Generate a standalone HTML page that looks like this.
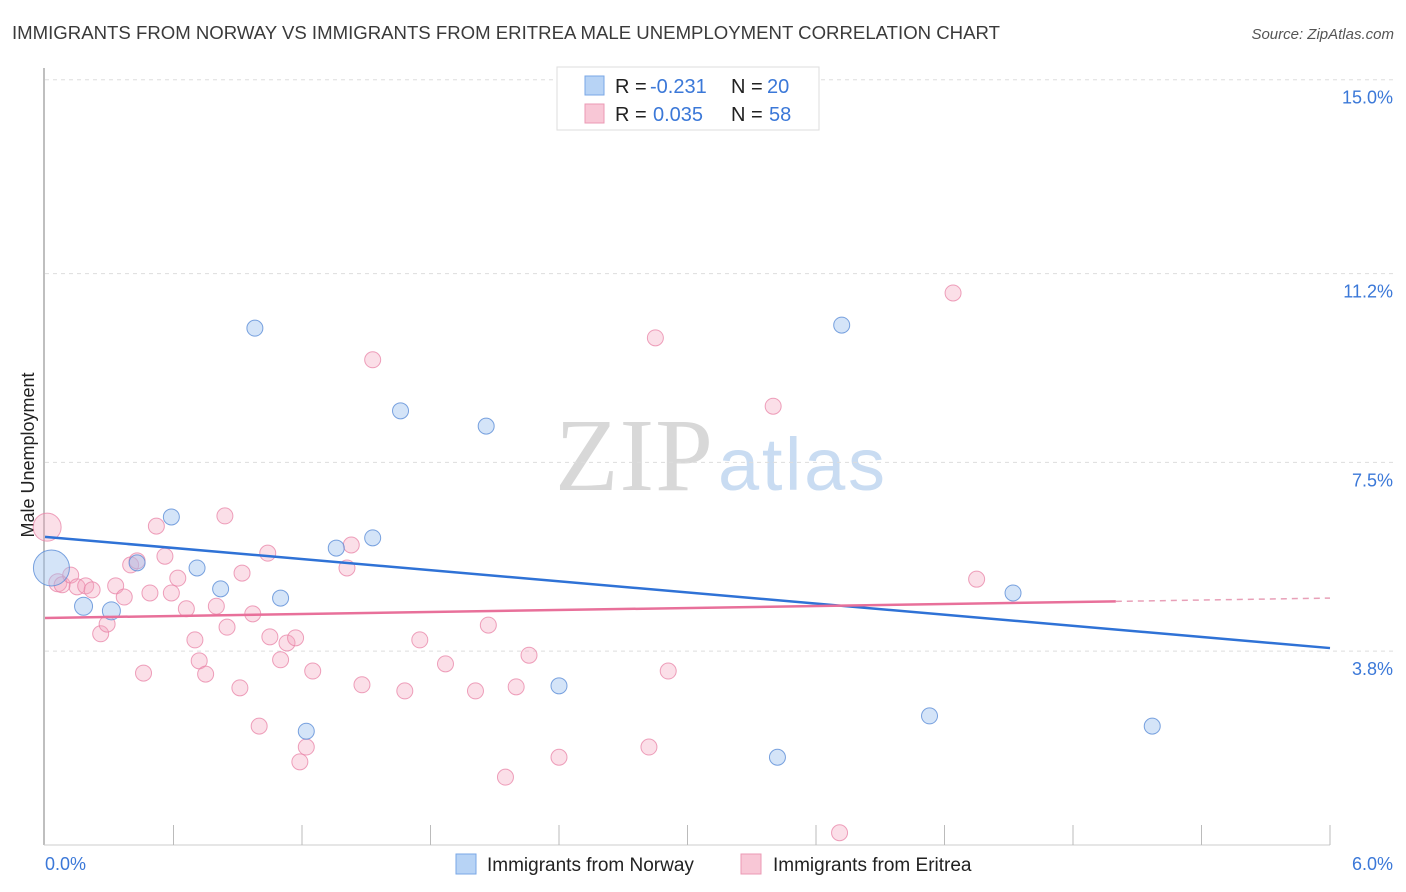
<!DOCTYPE html>
<html><head><meta charset="utf-8"><style>
body{margin:0;background:#fff;font-family:"Liberation Sans",sans-serif;}
#wrap{position:relative;width:1406px;height:892px;overflow:hidden}
</style></head><body>
<div id="wrap">
<svg id="svg" width="1406" height="892" xmlns="http://www.w3.org/2000/svg">
<text x="12" y="39" font-size="18.6" fill="#3a3a3a">IMMIGRANTS FROM NORWAY VS IMMIGRANTS FROM ERITREA MALE UNEMPLOYMENT CORRELATION CHART</text>
<text x="1394" y="39" font-size="15" font-style="italic" fill="#555" text-anchor="end">Source: ZipAtlas.com</text>
<text x="713" y="490" font-size="104" font-family="Liberation Serif,serif" fill="#d8d8d8" text-anchor="end" textLength="158">ZIP</text>
<text x="718" y="490" font-size="74" fill="#c9dcf2" textLength="167">atlas</text>
<g id="grid"></g>
<line x1="44" y1="68" x2="44" y2="845" stroke="#aaa" stroke-width="1.5"/>
<line x1="44" y1="845" x2="1330" y2="845" stroke="#ccc" stroke-width="1"/>
<g id="xticks"></g>
<text transform="translate(34,455) rotate(-90)" font-size="18" fill="#222" text-anchor="middle">Male Unemployment</text>
<text x="45" y="870" font-size="18" fill="#3b78d8">0.0%</text>
<text x="1393" y="870" font-size="18" fill="#3b78d8" text-anchor="end">6.0%</text>
<g id="pts"></g>
<g id="lines"></g>
<g>
<rect x="557" y="67" width="262" height="63" fill="#fff" stroke="#ddd"/>
<rect x="585" y="76" width="19" height="19" fill="#b7d3f5" stroke="#7aa7e6"/>
<rect x="585" y="104" width="19" height="19" fill="#f8c7d6" stroke="#eb9ab4"/>
<text x="615" y="93" font-size="20" fill="#222">R =</text>
<text x="650" y="93" font-size="20" fill="#3b78d8">-0.231</text>
<text x="731" y="93" font-size="20" fill="#222">N =</text>
<text x="767" y="93" font-size="20" fill="#3b78d8">20</text>
<text x="615" y="121" font-size="20" fill="#222">R =</text>
<text x="653" y="121" font-size="20" fill="#3b78d8">0.035</text>
<text x="731" y="121" font-size="20" fill="#222">N =</text>
<text x="769" y="121" font-size="20" fill="#3b78d8">58</text>
</g>
<g>
<rect x="456" y="854" width="20" height="20" fill="#b7d3f5" stroke="#7aa7e6"/>
<text x="487" y="871" font-size="19" fill="#222">Immigrants from Norway</text>
<rect x="741" y="854" width="20" height="20" fill="#f8c7d6" stroke="#eb9ab4"/>
<text x="773" y="871" font-size="19" fill="#222">Immigrants from Eritrea</text>
</g>
</svg>
</div>
<script>
const yTicks=[3.8,7.5,11.2,15.0];
const yTickLabels=["3.8%","7.5%","11.2%","15.0%"];
const xTickCount=10;
const norwayX=[0.03,0.18,0.31,0.43,0.59,0.71,0.82,0.98,1.10,1.22,1.36,1.53,1.66,2.06,2.40,3.42,3.72,4.13,4.52,5.17];
const norwayY=[5.43,4.68,4.59,5.53,6.43,5.43,5.02,10.13,4.84,2.23,5.82,6.02,8.51,8.21,3.12,1.72,10.19,2.53,4.94,2.33];
const norwayR=[18,9,9,8,8,8,8,8,8,8,8,8,8,8,8,8,8,8,8,8];
const eritreaX=[0.01,0.06,0.08,0.12,0.15,0.19,0.22,0.26,0.29,0.33,0.37,0.40,0.43,0.46,0.49,0.52,0.56,0.59,0.62,0.66,0.70,0.72,0.75,0.80,0.84,0.85,0.91,0.92,0.97,1.00,1.04,1.05,1.10,1.13,1.17,1.19,1.22,1.25,1.41,1.43,1.48,1.53,1.68,1.75,1.87,2.01,2.07,2.15,2.20,2.26,2.40,2.82,2.85,2.91,3.40,3.71,4.24,4.35];
const eritreaY=[6.23,5.14,5.10,5.29,5.06,5.08,5.00,4.14,4.33,5.08,4.86,5.49,5.57,3.37,4.94,6.25,5.66,4.94,5.23,4.63,4.02,3.61,3.35,4.68,6.45,4.27,3.08,5.33,4.53,2.33,5.72,4.08,3.63,3.96,4.06,1.63,1.92,3.41,5.43,5.88,3.14,9.51,3.02,4.02,3.55,3.02,4.31,1.33,3.10,3.72,1.72,1.92,9.94,3.41,8.60,0.24,10.82,5.21];
const eritreaR=[14,9,8,8,8,8,8,8,8,8,8,8,8,8,8,8,8,8,8,8,8,8,8,8,8,8,8,8,8,8,8,8,8,8,8,8,8,8,8,8,8,8,8,8,8,8,8,8,8,8,8,8,8,8,8,8,8,8];
const blueLine=[6.04,3.86];
const pinkLine=[4.45,4.84];
const pinkSolidEnd=5.0;

const NS="http://www.w3.org/2000/svg";
const X=v=>45+v*(1285/6);
const Y=v=>845-v*51.02;
function mk(t,a,p){const e=document.createElementNS(NS,t);for(const k in a)e.setAttribute(k,a[k]);p.appendChild(e);return e;}
const grid=document.getElementById('grid');
yTicks.forEach((t,i)=>{
  const l=mk('line',{x1:45,x2:1394,y1:Y(t),y2:Y(t),stroke:'#ddd','stroke-dasharray':'4,4'},grid);
  
  
  const tx=mk('text',{x:1393,y:Y(t)+24,'font-size':18,fill:'#3b78d8','text-anchor':'end'},grid);
  tx.textContent=yTickLabels[i];
  
  
});
const xt=document.getElementById('xticks');
for(let i=1;i<=xTickCount;i++){
  const l=mk('line',{x1:X(i*0.6),x2:X(i*0.6),y1:825,y2:845,stroke:'#bbb'},xt);
  
  
}
const pts=document.getElementById('pts');
eritreaX.forEach((x,i)=>{
  const c=mk('circle',{cx:X(x),cy:Y(eritreaY[i]),r:eritreaR[i],fill:'rgba(244,163,189,0.35)',stroke:'rgba(232,130,165,0.75)','stroke-width':1},pts);
  
  
});
norwayX.forEach((x,i)=>{
  const c=mk('circle',{cx:X(x),cy:Y(norwayY[i]),r:norwayR[i],fill:'rgba(160,196,240,0.45)',stroke:'rgba(90,140,215,0.8)','stroke-width':1},pts);
  
  
});
const lines=document.getElementById('lines');
const bl=mk('line',{x1:X(0),y1:Y(blueLine[0]),x2:X(6),y2:Y(blueLine[1]),stroke:'#2f72d6','stroke-width':2.5},lines);


const pv=x=>pinkLine[0]+(pinkLine[1]-pinkLine[0])*x/6;
const pl=mk('line',{x1:X(0),y1:Y(pv(0)),x2:X(pinkSolidEnd),y2:Y(pv(pinkSolidEnd)),stroke:'#e8709a','stroke-width':2.5},lines);


const pd=mk('line',{x1:X(pinkSolidEnd),y1:Y(pv(pinkSolidEnd)),x2:X(6),y2:Y(pv(6)),stroke:'#e8a0b8','stroke-width':1.5,'stroke-dasharray':'6,5'},lines);


</script>
</body></html>
